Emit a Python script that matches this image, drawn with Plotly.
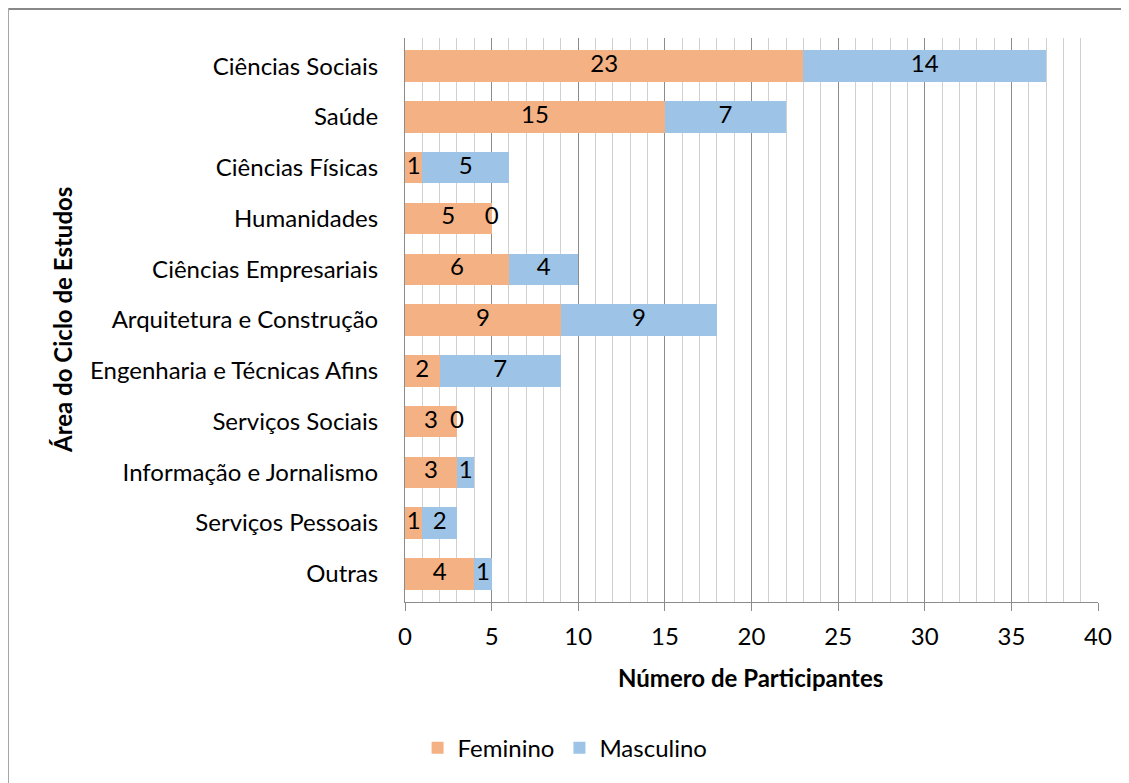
import plotly.graph_objects as go

categories = ["Ciências Sociais", "Saúde", "Ciências Físicas", "Humanidades",
              "Ciências Empresariais", "Arquitetura e Construção",
              "Engenharia e Técnicas Afins", "Serviços Sociais",
              "Informação e Jornalismo", "Serviços Pessoais", "Outras"]
feminino = [23, 15, 1, 5, 6, 9, 2, 3, 3, 1, 4]
masculino = [14, 7, 5, 0, 4, 9, 7, 0, 1, 2, 1]

FONT = "Lato, Carlito, Calibri, sans-serif"
FS = 24
C_F = "#F4B183"
C_M = "#9DC3E6"

W, H = 1121, 775
L, T = 397, 30
PW, PH = 693, 564
R = W - L - PW
B = H - T - PH

fig = go.Figure()
fig.add_trace(go.Bar(y=categories, x=feminino, orientation="h", name="Feminino",
                     marker=dict(color=C_F, line=dict(width=0))))
fig.add_trace(go.Bar(y=categories, x=masculino, orientation="h", name="Masculino",
                     marker=dict(color=C_M, line=dict(width=0))))

# data labels centred in each segment
fig.add_trace(go.Scatter(y=categories, x=[f / 2 for f in feminino], mode="text",
                         text=[str(v) for v in feminino], showlegend=False,
                         textfont=dict(family=FONT, size=FS, color="black"),
                         hoverinfo="skip"))
fig.add_trace(go.Scatter(y=categories, x=[f + m / 2 for f, m in zip(feminino, masculino)],
                         mode="text", text=[str(v) for v in masculino], showlegend=False,
                         textfont=dict(family=FONT, size=FS, color="black"),
                         hoverinfo="skip"))

fig.update_layout(
    barmode="stack",
    bargap=0.38,
    width=W, height=H,
    margin=dict(l=L, r=R, t=T, b=B),
    paper_bgcolor="white", plot_bgcolor="white",
    font=dict(family=FONT, size=FS, color="black"),
    showlegend=True,
    legend=dict(orientation="h", x=0.231, xanchor="center", y=-0.259, yanchor="middle",
                font=dict(family=FONT, size=FS, color="black"),
                traceorder="normal", itemwidth=30),
    xaxis=dict(range=[0, 40], dtick=5, tick0=0,
               showgrid=True, gridcolor="#8c8c8c", gridwidth=1,
               minor=dict(dtick=1, showgrid=True, gridcolor="#d0d0d0", gridwidth=1),
               ticks="outside", ticklen=8, tickcolor="#8c8c8c",
               showline=True, linecolor="#8c8c8c", linewidth=1,
               ticklabelstandoff=5,
               tickfont=dict(family=FONT, size=FS, color="black"),
               zeroline=False, fixedrange=True),
    yaxis=dict(autorange="reversed", showline=True, linecolor="#8c8c8c", linewidth=1,
               ticks="", ticklabelstandoff=21, showgrid=False,
               tickfont=dict(family=FONT, size=FS, color="black")),
    annotations=[
        dict(text="<b>Número de Participantes</b>", xref="paper", yref="paper",
             x=0.498, y=-0.133, xanchor="center", yanchor="middle", showarrow=False,
             font=dict(family=FONT, size=FS, color="black")),
        dict(text="<b>Área do Ciclo de Estudos</b>", xref="paper", yref="paper",
             x=-0.495, y=0.5, xanchor="center", yanchor="middle", showarrow=False,
             textangle=-90, font=dict(family=FONT, size=FS, color="black")),
    ],
    shapes=[
        dict(type="line", xref="paper", yref="paper",
             x0=(0 - L) / PW, x1=(W - L) / PW, y0=(PH + T - 1) / PH, y1=(PH + T - 1) / PH,
             line=dict(color="#888888", width=2)),
        dict(type="line", xref="paper", yref="paper",
             x0=(0 - L) / PW, x1=(0 - L) / PW, y0=(PH + T) / PH, y1=-B / PH,
             line=dict(color="#a6a6a6", width=2)),
    ],
)

fig.write_html("out.html")
